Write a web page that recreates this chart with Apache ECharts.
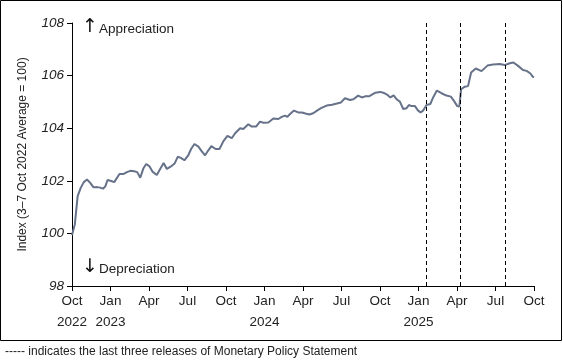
<!DOCTYPE html>
<html><head><meta charset="utf-8">
<script src="https://cdn.jsdelivr.net/npm/echarts@6/dist/echarts.min.js"></script>
<style>html,body{margin:0;padding:0;background:#fff}#c{width:563px;height:364px}</style>
</head><body><div id="c"></div>
<script>
// months since 1 Oct 2022
const months = [0,0.22,0.44,0.68,0.92,1.17,1.42,1.68,1.95,2.20,2.41,2.59,2.77,3.06,3.29,3.70,4.02,4.28,4.54,4.85,5.08,5.32,5.57,5.78,6.02,6.27,6.61,6.87,7.14,7.39,7.78,8.00,8.25,8.51,8.76,9.07,9.28,9.54,9.85,10.10,10.37,10.61,10.86,11.19,11.49,11.80,12.11,12.45,12.71,13.10,13.35,13.74,14.01,14.34,14.65,14.91,15.30,15.43,15.69,16.08,16.34,16.60,16.78,16.99,17.30,17.63,17.92,18.19,18.49,18.80,19.09,19.40,19.84,20.26,20.72,20.96,21.27,21.66,21.93,22.30,22.59,22.90,23.14,23.64,24.03,24.30,24.54,24.81,25.06,25.32,25.55,25.81,26.07,26.25,26.46,26.72,26.97,27.16,27.36,27.63,27.92,28.16,28.43,28.79,29.18,29.52,29.79,30.02,30.18,30.32,30.61,30.86,31.10,31.46,31.91,32.37,32.81,33.33,33.72,34.11,34.40,34.76,35.14,35.43,35.72,35.90,36.0];
const index = [99.94,100.34,101.42,101.73,101.95,102.05,101.92,101.75,101.76,101.74,101.70,101.78,102.03,101.99,101.95,102.26,102.26,102.33,102.38,102.36,102.33,102.12,102.48,102.64,102.56,102.35,102.22,102.45,102.68,102.45,102.57,102.66,102.92,102.86,102.78,102.98,103.21,103.40,103.30,103.13,102.97,103.15,103.32,103.21,103.21,103.51,103.71,103.62,103.81,104.00,103.97,104.15,104.06,104.06,104.25,104.21,104.22,104.17,104.37,104.35,104.43,104.48,104.43,104.54,104.67,104.60,104.60,104.56,104.52,104.57,104.67,104.76,104.86,104.89,104.95,104.98,105.14,105.07,105.10,105.24,105.17,105.22,105.21,105.35,105.38,105.34,105.28,105.17,105.25,105.09,105.01,104.73,104.76,104.88,104.84,104.84,104.67,104.60,104.67,104.88,104.92,105.19,105.43,105.33,105.24,105.20,105.02,104.84,104.82,105.48,105.58,105.60,106.12,106.27,106.17,106.38,106.42,106.44,106.40,106.47,106.50,106.37,106.21,106.18,106.08,105.96,105.93];
const tickLabels = ["Oct\n2022","Jan\n2023","Apr","Jul","Oct","Jan\n2024","Apr","Jul","Oct","Jan\n2025","Apr","Jul","Oct"];
// last three Monetary Policy Statement releases (months since 1 Oct 2022)
const mpsReleases = [27.60, 30.24, 33.76];

const font = "'Liberation Sans', Arial, sans-serif";
const chart = echarts.init(document.getElementById('c'), null, {renderer:'canvas'});
chart.setOption({
  animation:false,
  grid:{left:72, right:29, top:23, bottom:78, containLabel:false},
  xAxis:{type:'value', min:0, max:36, interval:3,
    axisLine:{show:true, onZero:false, lineStyle:{color:'#000', width:1}},
    axisTick:{show:true, length:5, lineStyle:{color:'#000'}},
    splitLine:{show:false},
    axisLabel:{fontFamily:font, fontSize:13.5, color:'#222', margin:5, lineHeight:21,
      formatter:v=>tickLabels[Math.round(v/3)] || ''}},
  yAxis:{type:'value', min:98, max:108, interval:2,
    name:'Index (3–7 Oct 2022 Average = 100)', nameLocation:'middle', nameGap:43,
    nameTextStyle:{fontFamily:font, fontSize:12, color:'#222'},
    axisLine:{show:true, lineStyle:{color:'#000', width:1}},
    axisTick:{show:true, length:5, lineStyle:{color:'#000'}},
    splitLine:{show:false},
    axisLabel:{fontFamily:font, fontSize:13.5, fontStyle:'italic', color:'#222', margin:8}},
  series:[{type:'line', data:months.map((m,i)=>[m,index[i]]), showSymbol:false, symbol:'none',
    lineStyle:{color:'#667289', width:2}, clip:true,
    markLine:{silent:true, symbol:'none', label:{show:false},
      lineStyle:{color:'#000', type:[4,3], width:1},
      data:mpsReleases.map(x=>({xAxis:x}))}}],
  graphic:[
    {type:'rect', shape:{x:0.5, y:0.5, width:561, height:340}, style:{fill:'none', stroke:'#000', lineWidth:1}},
    {type:'text', left:82, top:18, style:{text:'↑', font:"19px 'DejaVu Sans', sans-serif", fill:'#111'}},
    {type:'text', left:99, top:22, style:{text:'Appreciation', font:"13.5px 'Liberation Sans', Arial, sans-serif", fill:'#222'}},
    {type:'text', left:82, top:258, style:{text:'↓', font:"19px 'DejaVu Sans', sans-serif", fill:'#111'}},
    {type:'text', left:99, top:262, style:{text:'Depreciation', font:"13.5px 'Liberation Sans', Arial, sans-serif", fill:'#222'}},
    {type:'text', left:5, top:346, style:{text:'----- indicates the last three releases of Monetary Policy Statement', font:"12px 'Liberation Sans', Arial, sans-serif", fill:'#222'}}
  ]
});
</script></body></html>
